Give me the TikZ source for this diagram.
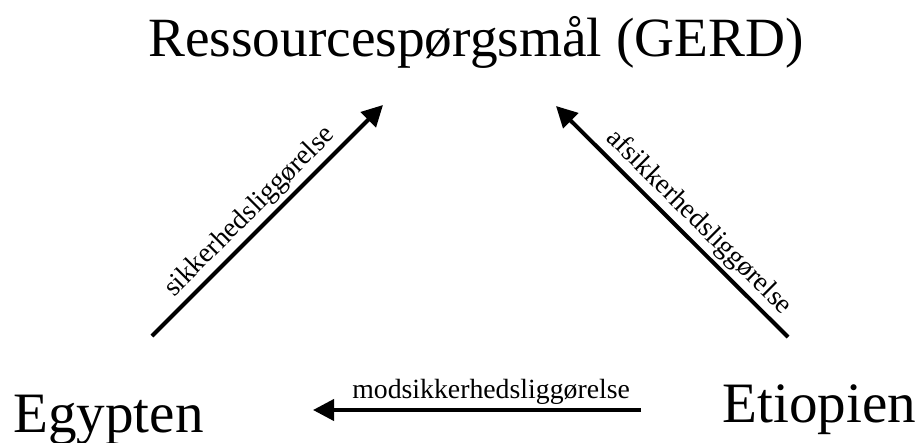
\documentclass[tikz,border=0pt]{standalone}
\usepackage{fontspec}
\setmainfont{Liberation Serif}
\usetikzlibrary{positioning,arrows.meta}
\tikzset{
    base/.style={font=\rmfamily, align=center, inner sep=0pt},
    issue/.style={base, font=\fontsize{31.5}{38}\selectfont},
    actor/.style={base, font=\fontsize{32.5}{39}\selectfont},
    move/.style={-{Triangle[length=4.2mm,width=4.2mm]}, line width=0.8mm, draw=black},
    movelabel/.style={font=\fontsize{15.8}{19}\selectfont, inner sep=2pt}
}

\begin{document}
\begin{tikzpicture}[x=0.2mm,y=-0.2mm]
  \useasboundingbox (0,0) rectangle (922,442);
  % the issue and the two actors
  \node[issue,anchor=base] (gerd) at (476,56) {Ressourcespørgsmål (GERD)};
  \node[actor,anchor=base west] (egypt) at (13,432) {Egypten};
  \node[actor,anchor=base west] (ethiopia) at (722,422) {Etiopien};
  % arrow ends
  \coordinate (egyTail) at (152,336);
  \coordinate (egyTip) at (383,105);
  \coordinate (ethTail) at (788,337);
  \coordinate (ethTip) at (556,106);
  \coordinate (ethLeft) at (641,410);
  \coordinate (egyRight) at (313,410);
  \draw[move] (egyTail) -- node[movelabel,pos=0.48,sloped,above] {sikkerhedsliggørelse} (egyTip);
  \draw[move] (ethTail) -- node[movelabel,pos=0.44,sloped,above] {afsikkerhedsliggørelse} (ethTip);
  \draw[move] (ethLeft) -- node[movelabel,pos=0.457,above] {modsikkerhedsliggørelse} (egyRight);
\end{tikzpicture}
\end{document}
